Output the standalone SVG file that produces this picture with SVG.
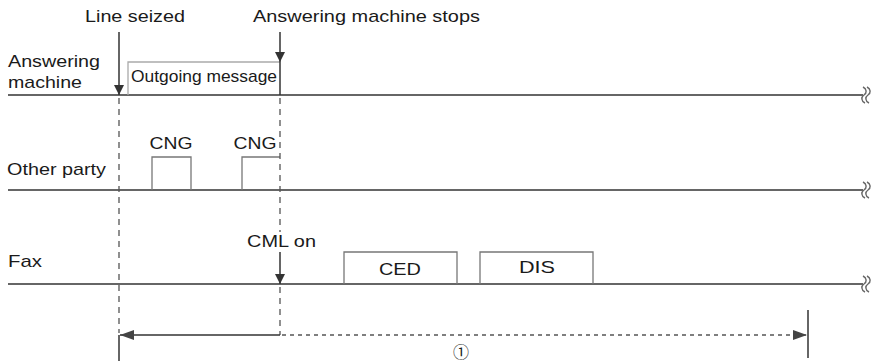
<svg xmlns="http://www.w3.org/2000/svg" width="878" height="362" viewBox="0 0 878 362">
<style>
text{font-family:"Liberation Sans",Arial,sans-serif;font-size:17px;fill:#1a1a1a}
.base{stroke:#666;stroke-width:2;fill:none}
.pulse{stroke:#777;stroke-width:1.3;fill:none}
.light{stroke:#aaa;stroke-width:1.3;fill:none}
.mark{stroke:#333;stroke-width:1.5;fill:none}
.dash{stroke:#555;stroke-width:1.3;fill:none;stroke-dasharray:6 5}
.dot{stroke:#555;stroke-width:1.3;fill:none;stroke-dasharray:4 4}
.sq{stroke:#666;stroke-width:1.4;fill:none}
</style>
<defs>
<marker id="ah" viewBox="0 0 10 10" refX="10" refY="5" markerWidth="10" markerHeight="10" markerUnits="userSpaceOnUse" orient="auto">
<path d="M0,0 L10,5 L0,10 Z" fill="#333"/>
</marker>
<marker id="ah2" viewBox="0 0 14 10" refX="14" refY="5" markerWidth="14" markerHeight="10" markerUnits="userSpaceOnUse" orient="auto">
<path d="M0,0 L14,5 L0,10 Z" fill="#444"/>
</marker>
<g id="squig">
<path class="sq" d="M-4,-8 C0,-6 0,-2 -3,0 C-6,2 -6,6 -2,8"/>
<path class="sq" d="M0,-8 C4,-6 4,-2 1,0 C-2,2 -2,6 2,8"/>
</g>
</defs>
<g id="answering-machine">
<text x="8" y="67" textLength="92" lengthAdjust="spacingAndGlyphs">Answering</text>
<text x="8" y="88" textLength="74" lengthAdjust="spacingAndGlyphs">machine</text>
<line class="base" x1="8" y1="95" x2="863" y2="95"/>
<use href="#squig" x="867" y="95"/>
</g>
<g id="outgoing-message">
<polyline class="light" points="128,95 128,62 280,62"/>
<text x="131" y="82" textLength="146" lengthAdjust="spacingAndGlyphs">Outgoing message</text>
</g>
<g id="other-party">
<text x="7" y="175" textLength="99" lengthAdjust="spacingAndGlyphs">Other party</text>
<line class="base" x1="8" y1="190" x2="863" y2="190"/>
<use href="#squig" x="867" y="190"/>
</g>
<g id="cng1">
<polyline class="pulse" points="152,190 152,157 191,157 191,190"/>
<text x="171" y="149" text-anchor="middle" textLength="43" lengthAdjust="spacingAndGlyphs">CNG</text>
</g>
<g id="cng2">
<polyline class="pulse" points="242,190 242,157 280,157"/>
<text x="255" y="149" text-anchor="middle" textLength="43" lengthAdjust="spacingAndGlyphs">CNG</text>
</g>
<g id="fax">
<text x="8" y="267" textLength="34" lengthAdjust="spacingAndGlyphs">Fax</text>
<line class="base" x1="8" y1="284" x2="863" y2="284"/>
<use href="#squig" x="867" y="284"/>
</g>
<g id="ced">
<polyline class="pulse" points="344,284 344,252 457,252 457,284"/>
<text x="400" y="275" text-anchor="middle" textLength="42" lengthAdjust="spacingAndGlyphs">CED</text>
</g>
<g id="dis">
<polyline class="pulse" points="480,284 480,252 593,252 593,284"/>
<text x="537" y="273" text-anchor="middle" textLength="36" lengthAdjust="spacingAndGlyphs">DIS</text>
</g>
<g id="labels">
<text x="85" y="22" textLength="100" lengthAdjust="spacingAndGlyphs">Line seized</text>
<text x="253" y="22" textLength="227" lengthAdjust="spacingAndGlyphs">Answering machine stops</text>
<text x="247" y="247" textLength="69" lengthAdjust="spacingAndGlyphs">CML on</text>
<text x="461" y="358" text-anchor="middle" style="font-family:'Noto Sans CJK JP',sans-serif;font-size:16px">①</text>
</g>
<g id="connectors">
<line class="mark" x1="119" y1="32" x2="119" y2="95" marker-end="url(#ah)"/>
<line class="dash" x1="119" y1="98" x2="119" y2="333"/>
<line class="mark" x1="119" y1="335" x2="119" y2="361"/>
<line class="mark" x1="280" y1="32" x2="280" y2="62" marker-end="url(#ah)"/>
<line class="mark" x1="280" y1="62" x2="280" y2="95"/>
<line class="dash" x1="280" y1="98" x2="280" y2="232"/>
<line class="mark" x1="280" y1="252" x2="280" y2="284" marker-end="url(#ah)"/>
<line class="dash" x1="280" y1="287" x2="280" y2="335"/>
<line class="mark" x1="280" y1="335" x2="120" y2="335" marker-end="url(#ah2)"/>
<line class="dot" x1="282" y1="335" x2="807" y2="335" marker-end="url(#ah2)"/>
<line class="mark" x1="808" y1="310" x2="808" y2="358"/>
</g>
</svg>
